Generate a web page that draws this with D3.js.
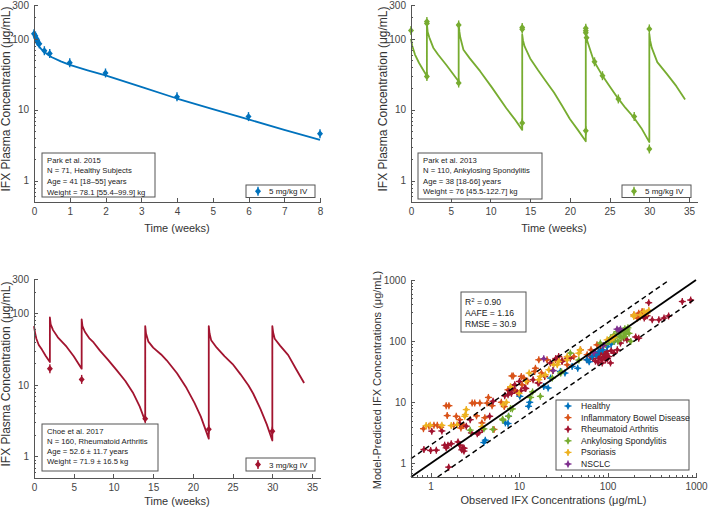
<!DOCTYPE html>
<html><head><meta charset="utf-8">
<script src="https://cdn.jsdelivr.net/npm/d3@7"></script>
<style>
body{margin:0;background:#fff}
svg{display:block}
text{font-family:"Liberation Sans",Arial,Helvetica,sans-serif}
.axis path,.axis line{stroke:#555;stroke-width:1;shape-rendering:crispEdges}
.axis text{fill:#444;font-size:10px}
</style>
</head><body><svg id="c" width="709" height="508"></svg>
<script>
// ---------------- DATA ----------------
// Panel 1: Park et al. 2015 (healthy, 5 mg/kg IV)
const p1ObsTime = [0, 0.04, 0.07, 0.1, 0.15, 0.29, 0.44, 1, 2, 4, 6, 8];
const p1ObsConc = [118, 110, 100, 92, 85, 68, 62, 46, 33, 15.2, 8.0, 4.6];
const p1ModelTime = [0, 0.02, 0.05, 0.1, 0.2, 0.3, 0.4, 0.5, 0.75, 1, 1.5, 2, 3, 4, 5, 6, 7, 8];
const p1ModelConc = [110, 100, 90, 82, 72, 65, 59, 55, 48, 43, 36, 30.5, 21, 14.4, 10.2, 7.3, 5.2, 3.75];

// Panel 2: Park et al. 2013 (ankylosing spondylitis, 5 mg/kg IV)
const p2ObsTime = [0, 2, 2, 2, 6, 6, 14, 14, 14, 22, 22, 22, 22.1, 22, 23.1, 24.1, 26.1, 28.1, 30, 30];
const p2ObsConc = [131, 175, 165, 29.5, 157, 23.8, 145, 136, 6.5, 141, 130, 122, 104, 5.06, 47.4, 30.2, 14.2, 8.0, 138, 2.8];
const p2ModelTime = [0, 0.15, 0.5, 1, 1.5, 2, 2, 2.1, 2.3, 2.8, 3.4, 4.5, 6, 6, 6.1, 6.2, 6.6, 7.4, 8.7, 10.2, 12, 13, 14, 14, 14.1, 14.3, 15, 16, 17, 18, 19, 20, 21, 22, 22, 22.1, 22.3, 23, 24, 25, 26, 27, 28, 29, 30, 30, 30.1, 30.3, 31, 32.2, 33.4, 34.5];
const p2ModelConc = [100, 80, 60, 46, 37, 30, 165, 125, 105, 75, 60, 42, 25, 160, 125, 105, 70, 53, 35, 20.5, 10.5, 7.5, 5.2, 115, 95, 78, 53, 36, 25, 17.5, 11.5, 7.4, 5.2, 3.6, 120, 100, 85, 49, 31.5, 21.5, 14.8, 10.6, 7.9, 5.5, 3.5, 118, 95, 75, 47, 32, 21.5, 14];

// Panel 3: Choe et al. 2017 (rheumatoid arthritis, 3 mg/kg IV)
const p3ObsTime = [2, 6, 14, 22, 30];
const p3ObsConc = [16.8, 11.9, 3.37, 2.39, 2.25];
const p3ModelTime = [0, 0.15, 0.3, 0.6, 1, 1.5, 2, 2, 2.1, 2.4, 3, 4.1, 5, 6, 6, 6.1, 6.4, 7, 7.5, 8.3, 9.3, 10.4, 11.5, 12.5, 13.3, 14, 14, 14.1, 14.4, 15, 16, 16.7, 18, 19.2, 20.2, 21, 22, 22, 22.1, 22.3, 23, 24, 25, 26, 27, 27.6, 28.5, 29.3, 30, 30, 30.1, 30.3, 31, 32, 33, 34];
const p3ModelConc = [66, 52, 44, 36, 31, 25, 20.8, 87, 70, 58, 46, 34, 25, 16.8, 82, 66, 55, 44, 39, 30, 22.5, 16, 11.3, 7.6, 5, 3.1, 66, 52, 40, 33, 26.5, 22, 14.5, 9, 5.6, 3.6, 1.77, 66, 52, 42, 33, 25, 19.5, 14, 9.8, 7.5, 4.6, 2.8, 1.67, 66, 54, 44, 35, 26, 16.5, 10.6];

// Panel 4: observed vs model-predicted, [observed, predicted]
const healthyPts = [[4.0,2.2],[4.15,2.4],[7.0,4.6],[7.5,4.5],[7.6,5.9],[10.2,12.5],[12.8,8.6],[13.2,10],[19,18.2],[21.3,17.2],[22.7,24.9],[29.3,32],[33,30],[39.8,38.6],[46,36],[58.5,49.6],[62,46],[67,56],[75,60],[80,68],[88,72],[99,81],[103,93],[110,90],[120,100]];
const ibdPts = [[0.83,3.7],[0.96,4.06],[1.09,4.2],[1.19,4.2],[1.3,3.9],[1.5,8.8],[1.54,6.06],[1.61,8.8],[1.82,4.2],[1.95,5.9],[2.13,5.2],[2.2,3.8],[2.36,4.2],[2.95,9.7],[3.15,9.7],[3.3,6.0],[3.6,9.7],[3.8,4.6],[4.1,5.6],[4.35,9.7],[4.5,12],[4.95,8.8],[5.2,3.6],[6.3,10],[6.8,8.5],[7.5,16],[8.3,27],[8.6,27],[8.9,15.7],[10.6,26.5],[10.8,19.4],[11.3,25],[12.5,22],[15,32],[15.3,36],[16.7,49.6],[17.9,30],[20.7,49.5],[24,33],[25.8,49.5],[30.6,48.5],[35,41],[41.6,56],[49.5,72],[58.8,60],[65,72],[76,87],[87,64],[108,105],[153,117],[198,268],[218,238],[225,286],[235,250],[246,304],[250,270],[268,253]];
const raPts = [[0.84,1.69],[1.0,1.63],[1.16,1.65],[1.44,1.99],[1.5,1.8],[1.57,1.99],[1.71,2.1],[1.6,0.87],[2.04,2.25],[2.13,1.99],[2.32,1.8],[2.38,1.59],[1.03,3.37],[1.34,3.4],[2.13,4.49],[2.53,4.06],[2.89,3.16],[3.5,3.2],[3.84,3.58],[2.8,5.2],[4.65,5.9],[5.08,10.4],[6.88,12.8],[7.5,13.3],[7.8,15.5],[8.2,14],[8.5,17],[8.93,19.4],[9.5,14.5],[10.1,21.9],[10.5,15.5],[11.6,17.1],[14.4,23.4],[16.4,20.7],[19.5,26.5],[22.6,43.8],[26,52],[28,56],[30.6,46.5],[35,52.6],[38,52.6],[58.8,49.6],[64,56],[68,52],[70,64],[72,66],[73,47],[75,58],[78,45],[80,53],[82,62],[84,72],[85,50],[87,44],[90,55],[91,60],[95,49.6],[96,62],[99,68],[100,52],[103,56],[108,44],[110,70],[118,64],[129,72],[140,93],[153,112],[166,105],[208,117],[225,112],[260,240],[280,260],[292,425],[320,223],[380,223],[435,238],[490,258],[700,445],[870,470],[16.8,20.8],[11.9,16.8],[3.37,3.05],[2.39,1.77],[2.25,1.67]];
const asPts = [[2.8,3.5],[5.06,3.6],[6.5,5.3],[8.0,7.9],[14.2,14.8],[23.8,25],[29.5,30],[30.2,31.5],[47.4,49],[4.0,3.68],[6.6,5.1],[7.6,5.9],[8.4,7.8],[13.5,12],[17.4,12.5],[38,63.7],[83,93],[95,88],[104,100],[108,113],[112,105],[118,127],[118,99],[124,118],[129,143],[131,100],[135,135],[138,118],[140,143],[145,115],[150,150],[153,143],[155,118],[157,160],[160,130],[166,153],[170,165],[175,134],[183,99]];
const psPts = [[0.89,4.16],[0.99,4.2],[1.34,4.2],[1.71,4.16],[2.0,4.3],[2.43,5.9],[2.47,6.3],[2.53,7.6],[3.8,4.0],[6.6,9.2],[7.2,10],[8,18],[10,14],[12,22],[13,30],[16.7,23.4],[17.4,26.5],[19.8,28.2],[21.7,34],[24.6,41],[27,41],[28.1,46.5],[35,56],[35,49.6],[47.3,63.5],[49,72],[99,105],[108,105],[113,112],[118,116],[198,253],[200,270],[236,268],[258,304],[280,290],[293,318]];
const nsclcPts = [[19,51.6],[24.3,33],[70,65],[90,85],[128,157],[135,150],[140,157]];

const groupNames = ["Healthy","Inflammatory Bowel Disease","Rheumatoid Arthritis","Ankylosing Spondylitis","Psoriasis","NSCLC"];
const groupColors = ["#0072BD","#D95319","#A2142F","#77AC30","#EDB120","#7E2F8E"];
const groupData = [healthyPts, ibdPts, raPts, asPts, psPts, nsclcPts];
const drawOrder = [1,2,0,3,4,5];

// ticks
const weekTicks8 = [0,1,2,3,4,5,6,7,8];
const weekTicks35 = [0,5,10,15,20,25,30,35];
const concTicks = [1,10,100,300];
const concMinor = [0.6,0.7,0.8,0.9,2,3,4,5,6,7,8,9,20,30,40,50,60,70,80,90,200];
const scatTicks = [1,10,100,1000];
const scatMinor = [0.7,0.8,0.9,2,3,4,5,6,7,8,9,20,30,40,50,60,70,80,90,200,300,400,500,600,700,800,900];

const infoP1 = ["Park et al. 2015","N = 71, Healthy Subjects","Age = 41 [18\u201355] years","Weight = 78.1 [55.4\u201399.9] kg"];
const infoP2 = ["Park et al. 2013","N = 110, Ankylosing Spondylitis","Age = 38 [18-66] years","Weight = 76 [45.5-122.7] kg"];
const infoP3 = ["Choe et al. 2017","N = 160, Rheumatoid Arthritis","Age = 52.6 \u00b1 11.7 years","Weight = 71.9 \u00b1 16.5 kg"];
const yTitle = "IFX Plasma Concentration (\u03bcg/mL)";

// ---------------- DRAW ----------------
const svg = d3.select('#c');

function axes(x, y, o){
  const xb = y.range()[0], yl = x.range()[0];
  const fmt = d3.format('d');
  svg.append('g').attr('class','axis').attr('transform',`translate(0,${xb})`)
    .call(d3.axisBottom(x).tickValues(o.xTicks).tickFormat(fmt).tickSize(-4).tickSizeOuter(0).tickPadding(6));
  if(o.xMinor) svg.append('g').attr('class','axis').attr('transform',`translate(0,${xb})`)
    .call(d3.axisBottom(x).tickValues(o.xMinor).tickFormat('').tickSize(-2).tickSizeOuter(0));
  svg.append('g').attr('class','axis').attr('transform',`translate(${yl},0)`)
    .call(d3.axisLeft(y).tickValues(o.yTicks).tickFormat(fmt).tickSize(-4).tickSizeOuter(0).tickPadding(5));
  if(o.yMinor) svg.append('g').attr('class','axis').attr('transform',`translate(${yl},0)`)
    .call(d3.axisLeft(y).tickValues(o.yMinor).tickFormat('').tickSize(-2).tickSizeOuter(0));
  const xr = x.range();
  svg.append('text').attr('x',(xr[0]+xr[1])/2).attr('y',o.xTitleY).attr('text-anchor','middle')
    .attr('font-size',11).attr('fill','#333').text(o.xTitle);
  svg.append('text').attr('transform',`translate(${o.yTitleX},${o.yTitleC}) rotate(-90)`).attr('text-anchor','middle')
    .attr('font-size',o.yTitleSize||11).attr('fill','#333').text(o.yTitle);
}

function diamond(g, cx, cy, color, r){
  g.append('path').attr('d',`M${cx},${cy-r*1.15}L${cx+r},${cy}L${cx},${cy+r*1.15}L${cx-r},${cy}Z`).attr('fill',color);
}
function errMarker(g, cx, cy, color){
  g.append('line').attr('x1',cx).attr('x2',cx).attr('y1',cy-4.5).attr('y2',cy+4.5).attr('stroke',color).attr('stroke-width',1.4);
  diamond(g,cx,cy,color,3);
}
function crossMarker(g, cx, cy, color){
  g.append('line').attr('x1',cx).attr('x2',cx).attr('y1',cy-3.5).attr('y2',cy+3.5).attr('stroke',color).attr('stroke-width',1.3);
  g.append('line').attr('x1',cx-3.5).attr('x2',cx+3.5).attr('y1',cy).attr('y2',cy).attr('stroke',color).attr('stroke-width',1.3);
  diamond(g,cx,cy,color,2.5);
}

function infoBox(x0,y0,w,h,lines,dy){
  svg.append('rect').attr('x',x0).attr('y',y0).attr('width',w).attr('height',h).attr('fill','#fff').attr('stroke','#555').attr('stroke-width',1);
  lines.forEach((s,i)=>svg.append('text').attr('x',x0+5).attr('y',y0+9.5+i*dy).attr('font-size',7.7).attr('fill','#222').text(s));
}
function legendBox(x0,y0,w,h,color,label){
  svg.append('rect').attr('x',x0).attr('y',y0).attr('width',w).attr('height',h).attr('fill','#fff').attr('stroke','#555').attr('stroke-width',1);
  const g = svg.append('g');
  errMarker(g,x0+12,y0+h/2,color);
  svg.append('text').attr('x',x0+23).attr('y',y0+h/2+3).attr('font-size',8).attr('fill','#222').text(label);
}

function pkPanel(xr, yr, xDomain, mt, mc, ot, oc, color){
  const x = d3.scaleLinear().domain(xDomain).range(xr);
  const y = d3.scaleLog().domain([0.5,300]).range(yr);
  const line = d3.line().x(d=>x(d)).y((d,i)=>y(mc[i]));
  svg.append('path').datum(mt).attr('d',line).attr('fill','none').attr('stroke',color).attr('stroke-width',1.8).attr('stroke-linejoin','round');
  const g = svg.append('g');
  ot.forEach((t,i)=>errMarker(g,x(t),y(oc[i]),color));
  return {x,y};
}

// Panel 1
let s = pkPanel([34,320],[202,5],[0,8],p1ModelTime,p1ModelConc,p1ObsTime,p1ObsConc,"#0072BD");
axes(s.x,s.y,{xTicks:weekTicks8,yTicks:concTicks,yMinor:concMinor,xTitle:"Time (weeks)",xTitleY:232,yTitle:yTitle,yTitleX:10,yTitleC:99,yTitleSize:12});
infoBox(42,153,113,44,infoP1,10.8);
legendBox(246,185,69,12.5,"#0072BD","5 mg/kg IV");

// Panel 2
s = pkPanel([411,697],[202,5],[0,36],p2ModelTime,p2ModelConc,p2ObsTime,p2ObsConc,"#77AC30");
axes(s.x,s.y,{xTicks:weekTicks35,yTicks:concTicks,yMinor:concMinor,xTitle:"Time (weeks)",xTitleY:232,yTitle:yTitle,yTitleX:387,yTitleC:99,yTitleSize:12});
infoBox(418,153,124,46,infoP2,10.5);
legendBox(622,185,69,12.5,"#77AC30","5 mg/kg IV");

// Panel 3
s = pkPanel([34,320],[478,279],[0,36],p3ModelTime,p3ModelConc,p3ObsTime,p3ObsConc,"#A2142F");
axes(s.x,s.y,{xTicks:weekTicks35,yTicks:concTicks,yMinor:concMinor,xTitle:"Time (weeks)",xTitleY:505,yTitle:yTitle,yTitleX:10,yTitleC:374,yTitleSize:12});
infoBox(42,424,116,47,infoP3,10);
legendBox(246,458,69,13,"#A2142F","3 mg/kg IV");

// Panel 4
const x4 = d3.scaleLog().domain([0.6,1000]).range([411,696]);
const y4 = d3.scaleLog().domain([0.6,1000]).range([477,280]);
const g4 = svg.append('g');
drawOrder.forEach(k=>groupData[k].forEach(p=>crossMarker(g4,x4(p[0]),y4(p[1]),groupColors[k])));
const foldFactors = [1,2,0.5];
const lo = 0.6, hi = 1000;
foldFactors.forEach(f=>{
  const a = Math.max(lo, lo/f), b = Math.min(hi, hi/f);
  svg.append('line').attr('x1',x4(a)).attr('y1',y4(a*f)).attr('x2',x4(b)).attr('y2',y4(b*f))
    .attr('stroke','#000').attr('stroke-width',f===1?1.8:1.5).attr('stroke-dasharray',f===1?null:'5,3.5');
});
axes(x4,y4,{xTicks:scatTicks,xMinor:scatMinor,yTicks:scatTicks,yMinor:scatMinor,xTitle:"Observed IFX Concentrations (\u03bcg/mL)",xTitleY:504,yTitle:"Model-Predicted IFX Concentrations (\u03bcg/mL)",yTitleX:381,yTitleC:380});

// stats box
svg.append('rect').attr('x',461).attr('y',292).attr('width',65).attr('height',40).attr('fill','#fff').attr('stroke','#555');
const st = svg.append('text').attr('x',465).attr('y',305).attr('font-size',8.6).attr('fill','#222');
st.append('tspan').text('R');
st.append('tspan').attr('dy',-3.5).attr('font-size',6).text('2');
st.append('tspan').attr('dy',3.5).text(' = 0.90');
svg.append('text').attr('x',465).attr('y',316).attr('font-size',8.6).attr('fill','#222').text('AAFE = 1.16');
svg.append('text').attr('x',465).attr('y',326.5).attr('font-size',8.6).attr('fill','#222').text('RMSE = 30.9');

// legend
svg.append('rect').attr('x',556).attr('y',400).attr('width',133).attr('height',70).attr('fill','#fff').attr('stroke','#555');
groupNames.forEach((n,i)=>{
  const cy = 406 + i*11.6;
  crossMarker(svg.append('g'),568,cy,groupColors[i]);
  svg.append('text').attr('x',581).attr('y',cy+3).attr('font-size',8.6).attr('fill','#222').text(n);
});
</script></body></html>
